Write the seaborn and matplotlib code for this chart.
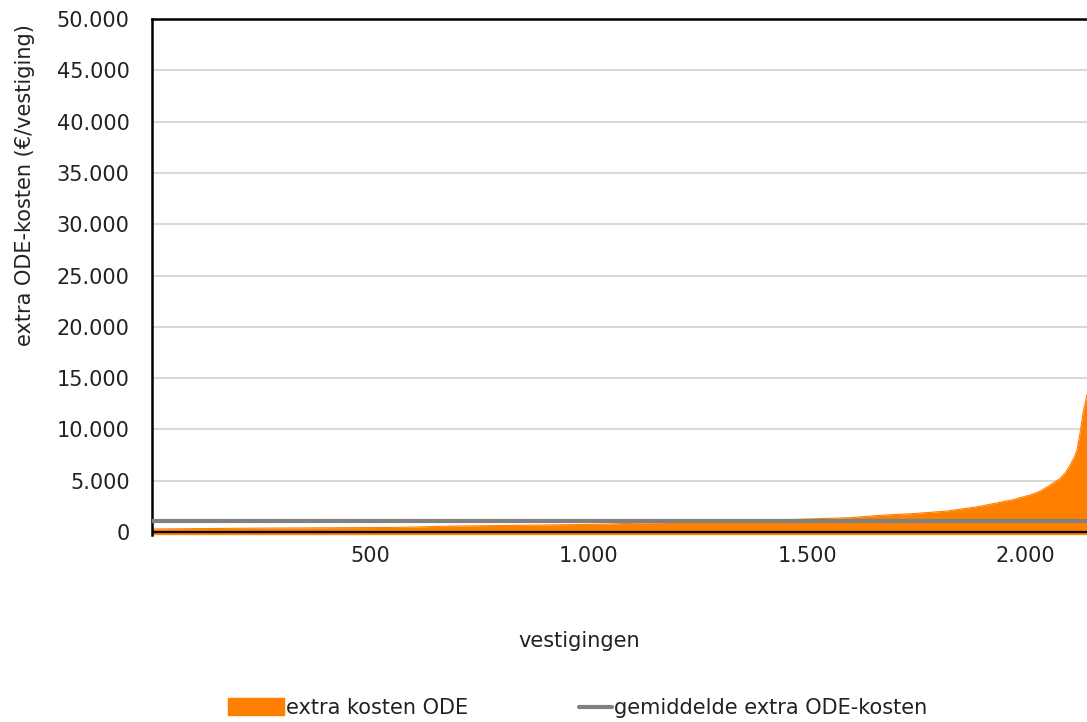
import numpy as np
import pandas as pd
import matplotlib
matplotlib.use("Agg")
import matplotlib.pyplot as plt
import seaborn as sns
from matplotlib.ticker import FuncFormatter
from matplotlib.patches import Patch
from matplotlib.lines import Line2D

# gelezen punten van de gesorteerde curve (vestiging-index, extra kosten in euro)
vestiging = [0, 224, 499, 568, 694, 882, 1049, 1090, 1255, 1477, 1598, 1667,
             1743, 1821, 1896, 1972, 2010, 2033, 2056, 2079, 2092, 2102, 2112,
             2118, 2125, 2132, 2141]
kosten = [300, 380, 440, 460, 590, 680, 780, 850, 1000, 1240, 1400, 1630,
          1800, 2050, 2510, 3160, 3600, 3970, 4560, 5210, 5800, 6510, 7300,
          7980, 9640, 11600, 13400]
gemiddelde = 1050

x_ticks = [500, 1000, 1500, 2000]
y_ticks = list(range(0, 50001, 5000))

df = pd.DataFrame({"vestiging": vestiging, "kosten": kosten})
df_gem = pd.DataFrame({"vestiging": [0, vestiging[-1]], "kosten": [gemiddelde, gemiddelde]})

sns.set_style("white")
plt.rcParams["font.family"] = ["DejaVu Sans"]

oranje = "#ff7f00"
grijs = "#808080"
fs = 15
W, H = 1087, 722

fig = plt.figure(figsize=(10.87, 7.22), dpi=100)
ax = fig.add_axes([0.1398, 0.2595, 0.8602, 0.7142])

ax.fill_between(df["vestiging"], -250, df["kosten"], color=oranje, lw=0, zorder=2)
sns.lineplot(data=df, x="vestiging", y="kosten", color=oranje, lw=0.8, ax=ax, zorder=2)
sns.lineplot(data=df_gem, x="vestiging", y="kosten", color=grijs, lw=3, ax=ax, zorder=3)
ax.axhline(0, color="black", lw=1.6, zorder=4)

ax.set_xlim(0, vestiging[-1])
ax.set_ylim(-250, 50000)
ax.set_yticks(y_ticks)
ax.set_xticks(x_ticks)
fmt = FuncFormatter(lambda v, p: f"{int(v):,}".replace(",", "."))
ax.xaxis.set_major_formatter(fmt)
ax.yaxis.set_major_formatter(fmt)
ax.tick_params(axis="both", length=0, labelsize=fs, colors="#222222")
ax.tick_params(axis="y", pad=16)
ax.tick_params(axis="x", pad=8)

ax.grid(axis="y", color="#d9d9d9", lw=1.5, zorder=0)
ax.set_axisbelow(True)

for s in ["right", "bottom"]:
    ax.spines[s].set_visible(False)
for s in ["left", "top"]:
    ax.spines[s].set_color("black")
    ax.spines[s].set_linewidth(1.8)

ax.set_xlabel("vestigingen", fontsize=fs, color="#222222")
ax.set_ylabel("extra ODE-kosten (€/vestiging)", fontsize=fs, color="#222222")
ax.xaxis.set_label_coords((579 - 152) / 935, -(631 - 534.6) / 515.6)
ax.yaxis.set_label_coords((35 - 152) / 935, 1 - (185 - 19) / 515.6)

# twee losse legenda's, zodat de symbolen hun eigen breedte krijgen
leg1 = fig.legend([Patch(facecolor=oranje, edgecolor=oranje)], ["extra kosten ODE"],
                  loc="center left", bbox_to_anchor=(228 / W, 1 - 708 / H),
                  frameon=False, fontsize=fs, handlelength=2.7, handleheight=0.9,
                  handletextpad=0.1, borderpad=0, borderaxespad=0)
leg2 = fig.legend([Line2D([0], [0], color=grijs, lw=3)], ["gemiddelde extra ODE-kosten"],
                  loc="center left", bbox_to_anchor=(579 / W, 1 - 708 / H),
                  frameon=False, fontsize=fs, handlelength=1.6,
                  handletextpad=0.1, borderpad=0, borderaxespad=0)
for t in leg1.get_texts() + leg2.get_texts():
    t.set_color("#222222")

fig.savefig("out.png", dpi=100)
